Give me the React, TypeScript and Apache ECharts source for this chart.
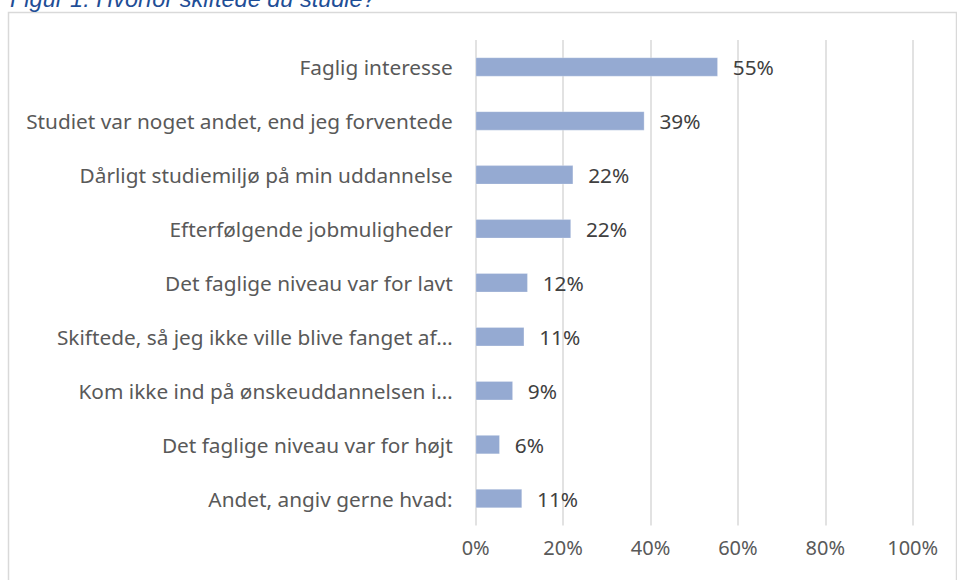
import React, { useEffect, useRef } from "react";
import * as echarts from "echarts";

const titleText = "Figur 1: Hvorfor skiftede du studie?";
const categories = [
  "Faglig interesse",
  "Studiet var noget andet, end jeg forventede",
  "Dårligt studiemiljø på min uddannelse",
  "Efterfølgende jobmuligheder",
  "Det faglige niveau var for lavt",
  "Skiftede, så jeg ikke ville blive fanget af…",
  "Kom ikke ind på ønskeuddannelsen i…",
  "Det faglige niveau var for højt",
  "Andet, angiv gerne hvad:",
];
const values = [55.4, 38.6, 22.3, 21.8, 11.9, 11.1, 8.5, 5.5, 10.6];
const axisMin = 0;
const axisMax = 100;
const axisStep = 20;

const FONT = "'Noto Sans', sans-serif";

export default function App() {
  const ref = useRef<HTMLDivElement>(null);
  useEffect(() => {
    if (!ref.current) return;
    const chart = echarts.init(ref.current, undefined, { renderer: "svg" });
    chart.setOption({
      animation: false,
      backgroundColor: "#ffffff",
      graphic: [
        {
          type: "rect",
          shape: { x: 8.5, y: 12.5, width: 948, height: 600 },
          style: { fill: "none", stroke: "#d9d9d9", lineWidth: 1.5 },
          silent: true,
          z: -1,
        },
        {
          type: "text",
          x: 10,
          y: -1,
          style: {
            text: titleText,
            fontFamily: "'Liberation Sans', Arial, sans-serif",
            fontStyle: "italic",
            fontSize: 23.5,
            fill: "#1F4E96",
            verticalAlign: "middle",
            align: "left",
          },
        },
      ],
      grid: { left: 475.7, right: 44.3, top: 40, bottom: 54.5, containLabel: false },
      xAxis: {
        type: "value",
        min: axisMin,
        max: axisMax,
        interval: axisStep,
        axisLine: { show: false },
        axisTick: { show: false },
        splitLine: { show: true, lineStyle: { color: "#d9d9d9", width: 1.5 } },
        axisLabel: {
          formatter: (v: number) => `${v}%`,
          color: "#595959",
          fontSize: 20,
          fontFamily: FONT,
          margin: 12,
        },
      },
      yAxis: {
        type: "category",
        inverse: true,
        data: categories,
        axisLine: { show: false },
        axisTick: { show: false },
        splitLine: { show: false },
        axisLabel: {
          color: "#595959",
          fontSize: 20.8,
          fontFamily: FONT,
          margin: 23,
        },
      },
      series: [
        {
          type: "bar",
          data: values,
          barWidth: 19,
          itemStyle: { color: "#95AAD2", borderColor: "rgba(255,255,255,0.5)", borderWidth: 0.5 },
          label: {
            show: true,
            position: "right",
            distance: 15,
            formatter: (p: any) => `${Math.round(p.value)}%`,
            color: "#404040",
            fontSize: 20.8,
            fontFamily: FONT,
          },
        },
      ],
    });
    return () => chart.dispose();
  }, []);
  return (
    <div
      ref={ref}
      style={{ position: "absolute", left: 0, top: 0, width: 957, height: 580 }}
    />
  );
}
